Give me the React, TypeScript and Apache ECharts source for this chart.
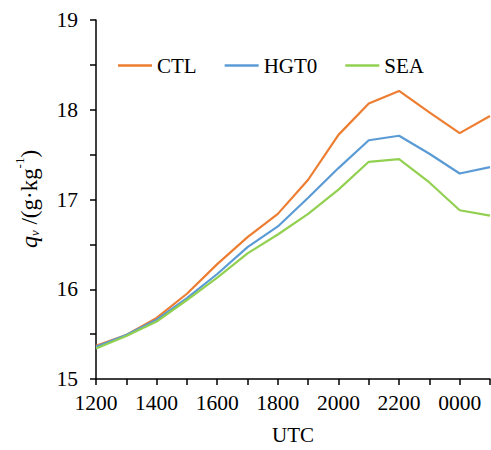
import React, { useEffect, useRef } from "react";
import * as echarts from "echarts";

const categories = ["1200", "1300", "1400", "1500", "1600", "1700", "1800", "1900", "2000", "2100", "2200", "2300", "0000", "0100"];
const ctl = [15.37, 15.49, 15.68, 15.95, 16.28, 16.58, 16.84, 17.22, 17.72, 18.07, 18.21, 17.97, 17.74, 17.93];
const hgt0 = [15.36, 15.49, 15.66, 15.90, 16.17, 16.47, 16.70, 17.02, 17.35, 17.66, 17.71, 17.51, 17.29, 17.36];
const sea = [15.34, 15.48, 15.64, 15.88, 16.13, 16.40, 16.61, 16.84, 17.11, 17.42, 17.45, 17.19, 16.88, 16.82];
const seriesNames = ["CTL", "HGT0", "SEA"];
const colors = ["#ED7D31", "#5B9BD5", "#92D050"];

const FONT = "'Liberation Serif', 'Times New Roman', serif";

export default function App() {
  const ref = useRef<HTMLDivElement>(null);
  useEffect(() => {
    if (!ref.current) return;
    const chart = echarts.init(ref.current, null, { renderer: "svg" });
    const values = [ctl, hgt0, sea];
    chart.setOption({
      animation: false,
      backgroundColor: "#ffffff",
      textStyle: { fontFamily: FONT },
      grid: { left: 96, right: 1, top: 20, bottom: 66, containLabel: false },
      legend: {
        data: seriesNames,
        left: 113,
        top: 50,
        icon: "rect",
        itemWidth: 34,
        itemHeight: 2.5,
        itemGap: 28,
        textStyle: { fontFamily: FONT, fontSize: 21, color: "#000" },
      },
      graphic: [
        {
          type: "text",
          x: 27,
          y: 199,
          rotation: Math.PI / 2,
          style: {
            text: "{q|q}{v|v}{n| /(g·kg}{s|-1}{n|)}",
            align: "center",
            verticalAlign: "middle",
            fontFamily: FONT,
            fontSize: 23,
            fill: "#000",
            rich: {
              q: { fontFamily: FONT, fontSize: 24, fontStyle: "italic", fill: "#000", lineHeight: 28, verticalAlign: "bottom" },
              v: { fontFamily: FONT, fontSize: 13, fontStyle: "italic", fill: "#000", lineHeight: 12, verticalAlign: "bottom" },
              n: { fontFamily: FONT, fontSize: 23, fill: "#000", lineHeight: 28, verticalAlign: "bottom" },
              s: { fontFamily: FONT, fontSize: 13, fill: "#000", lineHeight: 16, verticalAlign: "top" },
            },
          },
        },
      ],
      xAxis: {
        type: "category",
        data: categories,
        boundaryGap: false,
        name: "UTC",
        nameLocation: "middle",
        nameGap: 45,
        nameTextStyle: { fontFamily: FONT, fontSize: 21, color: "#000" },
        axisLine: { lineStyle: { color: "#000", width: 1.5 } },
        axisTick: { show: true, interval: 0, length: 6, lineStyle: { color: "#000", width: 1.5 } },
        axisLabel: { interval: 1, margin: 13, fontFamily: FONT, fontSize: 21.5, color: "#000" },
        splitLine: { show: false },
      },
      yAxis: {
        type: "value",
        min: 15,
        max: 19,
        interval: 1,
        axisLine: { show: true, lineStyle: { color: "#000", width: 1.5 } },
        axisTick: { show: true, length: 6, lineStyle: { color: "#000", width: 1.5 } },
        minorTick: { show: true, splitNumber: 2, length: 6, lineStyle: { color: "#000", width: 1.5 } },
        axisLabel: { margin: 18, fontFamily: FONT, fontSize: 21.5, color: "#000" },
        splitLine: { show: false },
      },
      series: seriesNames.map((name, i) => ({
        name,
        type: "line",
        data: values[i],
        symbol: "none",
        lineStyle: { color: colors[i], width: 2.2 },
        itemStyle: { color: colors[i] },
      })),
    });
    return () => chart.dispose();
  }, []);
  return <div ref={ref} style={{ position: "fixed", left: 0, top: 0, width: 491, height: 450 }} />;
}
